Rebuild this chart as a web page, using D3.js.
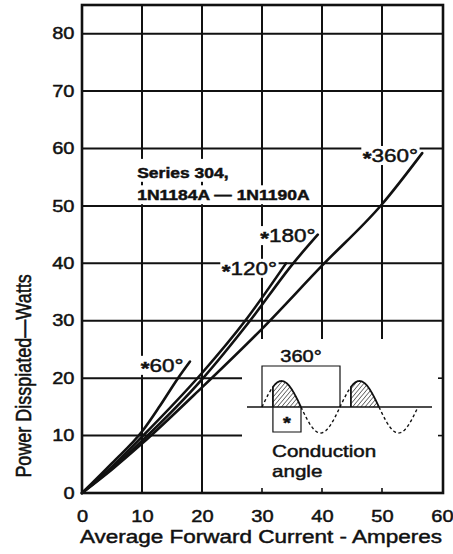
<!DOCTYPE html>
<html>
<head>
<meta charset="utf-8">
<script src="https://cdn.jsdelivr.net/npm/d3@7"></script>
<style>
  body { margin: 0; background: #fff; }
  text { font-family: "Liberation Sans", Arial, Helvetica, sans-serif; fill: #111; stroke: #111; stroke-width: 0.45px; }
</style>
</head>
<body>
<svg id="chart" width="453" height="554"></svg>
<script>
// Axis ticks
const xTickValues = [0, 10, 20, 30, 40, 50, 60];
const yTickValues = [0, 10, 20, 30, 40, 50, 60, 70, 80];

// Curves, [amperes, watts]
const deg60 = [[0, 0], [5, 5.2], [10, 10.7], [13, 15.2], [16, 20], [18, 22.9]];
const deg120 = [[0, 0], [5, 4.6], [10, 9.8], [20, 20.9], [27.2, 30], [34, 40]];
const deg180 = [[0, 0], [5, 4.3], [10, 9.1], [20, 19.8], [28, 30], [35.2, 40], [39.3, 45]];
const deg360 = [[0, 0], [5, 4.1], [10, 8.6], [20, 18.4], [30, 28.6], [40, 39.6], [50, 50.3], [56.7, 59.2]];
const curveNames = ["60°", "120°", "180°", "360°"];
const seriesTitle = ["Series 304,", "1N1184A — 1N1190A"];

const SX = 1.25; // the printed page is stretched sideways, so is all the type

let svg = d3.select("#chart");

let x = d3.scaleLinear().domain([0, 60]).range([82, 442]);
let y = d3.scaleLinear().domain([0, 85]).range([493, 5]);

// layers: grid, white knock-outs, frame, curves, text, inset sketch
let gGrid = svg.append("g");
let gMask = svg.append("g");
let gFrame = svg.append("g");
let gLines = svg.append("g");
let gText = svg.append("g");
let gInset = svg.append("g");

// Grid
gGrid.selectAll(".vgrid")
  .data(xTickValues.slice(1, -1))
  .enter().append("line")
  .attr("x1", d => x(d)).attr("x2", d => x(d))
  .attr("y1", y(85)).attr("y2", y(0))
  .attr("stroke", "#111").attr("stroke-width", 2);

gGrid.selectAll(".hgrid")
  .data(yTickValues.slice(1))
  .enter().append("line")
  .attr("x1", x(0)).attr("x2", x(60))
  .attr("y1", d => y(d)).attr("y2", d => y(d))
  .attr("stroke", "#111").attr("stroke-width", 2);

// white area where the waveform sketch sits
gMask.append("rect")
  .attr("x", 242).attr("y", 339)
  .attr("width", x(60) - 242).attr("height", y(0) - 339)
  .attr("fill", "#fff");

// Frame
gFrame.append("rect")
  .attr("x", x(0)).attr("y", y(85))
  .attr("width", x(60) - x(0) + 1).attr("height", y(0) - y(85))
  .attr("fill", "none").attr("stroke", "#111").attr("stroke-width", 2.6);

// short ticks left on the frame inside the white area
gFrame.selectAll(".btick")
  .data([30, 40, 50])
  .enter().append("line")
  .attr("x1", d => x(d)).attr("x2", d => x(d))
  .attr("y1", y(0)).attr("y2", y(0) - 5)
  .attr("stroke", "#111").attr("stroke-width", 1.6);
gFrame.selectAll(".rtick")
  .data([10, 20])
  .enter().append("line")
  .attr("x1", x(60)).attr("x2", x(60) - 4)
  .attr("y1", d => y(d)).attr("y2", d => y(d))
  .attr("stroke", "#111").attr("stroke-width", 1.6);

// Axes (labels only)
let yAxis = svg.append("g")
  .attr("transform", `translate(${x(0)},0)`)
  .call(d3.axisLeft(y).tickValues(yTickValues).tickSize(0).tickPadding(6));
yAxis.select(".domain").remove();
yAxis.selectAll("text")
  .style("font-size", "16px")
  .style("font-family", "'Liberation Sans', Arial, sans-serif")
  .attr("fill", "#111")
  .attr("transform", `scale(${SX},1)`);

let xAxis = svg.append("g")
  .attr("transform", `translate(0,${y(0)})`)
  .call(d3.axisBottom(x).tickValues(xTickValues).tickSize(0).tickPadding(18));
xAxis.select(".domain").remove();
xAxis.selectAll("text")
  .style("font-size", "16px")
  .style("font-family", "'Liberation Sans', Arial, sans-serif")
  .attr("fill", "#111")
  .attr("transform", `scale(${SX},1)`)
  .attr("x", 0);

// Axis titles
svg.append("text")
  .attr("transform", `translate(261,543) scale(${SX},1)`)
  .attr("text-anchor", "middle")
  .style("font-size", "18px")
  .text("Average Forward Current - Amperes");

svg.append("text")
  .attr("transform", `translate(31,376) scale(${SX},1) rotate(-90)`)
  .attr("text-anchor", "middle")
  .style("font-size", "18px")
  .text("Power Disspiated—Watts");

// Curves
let line = d3.line()
  .x(d => x(d[0]))
  .y(d => y(d[1]))
  .curve(d3.curveMonotoneX);

[deg60, deg120, deg180, deg360].forEach(function(c) {
  gLines.append("path")
    .attr("d", line(c))
    .attr("fill", "none")
    .attr("stroke", "#111")
    .attr("stroke-width", 2.6)
    .attr("stroke-linecap", "round");
});

// text with a white box knocked out of the grid behind it
function addLabel(px, py, size, weight) {
  let t = gText.append("text")
    .attr("transform", `translate(${px},${py}) scale(${SX},1)`)
    .style("font-size", size + "px")
    .style("font-weight", weight);
  return t;
}
function knockOut(t, px, py, size, padTop, padBot) {
  let bb = t.node().getBBox();
  let top = py - 0.78 * size - padTop;
  gMask.append("rect")
    .attr("x", px + bb.x * SX - 1.5)
    .attr("y", top)
    .attr("width", bb.width * SX + 3)
    .attr("height", py + padBot - top)
    .attr("fill", "#fff");
}

// curve labels, anchored in data units
let labelAt = [[9.8, 21.1], [23.3, 38.0], [29.7, 43.7], [46.8, 57.65]];
curveNames.forEach(function(name, i) {
  let px = x(labelAt[i][0]), py = y(labelAt[i][1]);
  let t = addLabel(px, py, 18, "normal");
  t.append("tspan").attr("dy", 3).style("font-weight", "bold").text("*");
  t.append("tspan").attr("dy", -3).text(name);
  knockOut(t, px, py, 18, 2, 3);
});

// series title
{
  let px = x(9.2);
  seriesTitle.forEach(function(s, i) {
    let py = y(i === 0 ? 54.9 : 51.0);
    let t = addLabel(px, py, 14, "bold").text(s);
    knockOut(t, px, py, 14, i === 0 ? 8 : 4, 4);
  });
}

// Inset: conduction angle sketch
let p = d3.scaleLinear().domain([0, 4 * Math.PI]).range([262, 418]);
let a = d3.scaleLinear().domain([-1, 1]).range([433, 381]);
let cStart = 0.28 * Math.PI;

let defs = svg.append("defs");
let pat = defs.append("pattern")
  .attr("id", "hatch")
  .attr("patternUnits", "userSpaceOnUse")
  .attr("width", 3.2).attr("height", 3.2)
  .attr("patternTransform", "rotate(40)");
pat.append("line")
  .attr("x1", 0).attr("y1", 0).attr("x2", 0).attr("y2", 3.2)
  .attr("stroke", "#111").attr("stroke-width", 1.1);

let sine = d3.line().x(d => p(d)).y(d => a(Math.sin(d)));
function span(t0, t1) {
  return d3.range(t0, t1, (t1 - t0) / 40).concat([t1]);
}

// dashed parts of the wave
[[0, cStart], [Math.PI, 2 * Math.PI + cStart], [3 * Math.PI, 4 * Math.PI]].forEach(function(s) {
  gInset.append("path")
    .attr("d", sine(span(s[0], s[1])))
    .attr("fill", "none").attr("stroke", "#111")
    .attr("stroke-width", 1.4).attr("stroke-dasharray", "3,2.6");
});

// conducting parts: hatched, solid outline
let hump = d3.area().x(d => p(d)).y0(a(0)).y1(d => a(Math.sin(d)));
[0, 2 * Math.PI].forEach(function(off) {
  let pts = span(off + cStart, off + Math.PI);
  gInset.append("path").attr("d", hump(pts)).attr("fill", "url(#hatch)");
  let outline = [[p(off + cStart), a(0)]].concat(pts.map(d => [p(d), a(Math.sin(d))]));
  gInset.append("path")
    .attr("d", d3.line()(outline))
    .attr("fill", "none").attr("stroke", "#111").attr("stroke-width", 1.8);
});

// zero line
gInset.append("line")
  .attr("x1", 247).attr("x2", 432)
  .attr("y1", a(0)).attr("y2", a(0))
  .attr("stroke", "#111").attr("stroke-width", 1.6);

// 360° dimension bracket
let bTop = 366;
gInset.append("path")
  .attr("d", `M${p(0)},${a(0)}V${bTop}H${p(2 * Math.PI)}V${a(0)}`)
  .attr("fill", "none").attr("stroke", "#111").attr("stroke-width", 1.2);
gInset.append("text")
  .attr("transform", `translate(${p(Math.PI)},362) scale(${SX},1)`)
  .attr("text-anchor", "middle")
  .style("font-size", "16px")
  .text("360°");

// conduction angle box
let bBot = 432;
gInset.append("path")
  .attr("d", `M${p(cStart)},${a(0)}V${bBot}H${p(Math.PI)}V${a(0)}`)
  .attr("fill", "none").attr("stroke", "#111").attr("stroke-width", 1.2);
gInset.append("text")
  .attr("transform", `translate(${(p(cStart) + p(Math.PI)) / 2},429) scale(${SX},1)`)
  .attr("text-anchor", "middle")
  .style("font-size", "16px").style("font-weight", "bold")
  .text("*");

gInset.append("text")
  .attr("transform", `translate(272,457) scale(${SX},1)`)
  .style("font-size", "16.5px")
  .text("Conduction");
gInset.append("text")
  .attr("transform", `translate(272,477) scale(${SX},1)`)
  .style("font-size", "16.5px")
  .text("angle");
</script>
</body>
</html>
